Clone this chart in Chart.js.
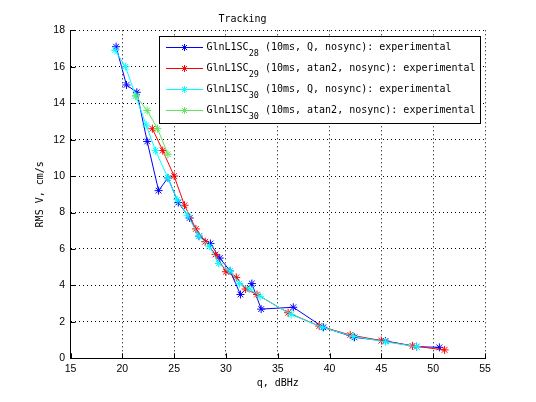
<!DOCTYPE html>
<html>
<head>
<meta charset="utf-8">
<script src="https://cdn.jsdelivr.net/npm/chart.js@4/dist/chart.umd.min.js"></script>
<style>
html,body{margin:0;padding:0;background:#fff;}
#wrap{width:536px;height:402px;}
</style>
</head>
<body>
<div id="wrap"><canvas id="c" width="536" height="402"></canvas></div>
<script>
// ---- data ----
const xTicks = [15, 20, 25, 30, 35, 40, 45, 50, 55];
const yTicks = [0, 2, 4, 6, 8, 10, 12, 14, 16, 18];

const q28Q_x = [19.4, 20.4, 21.4, 22.4, 23.5, 24.4, 25.4, 26.5, 27.4, 28.5, 29.4, 30.4, 31.4, 32.5, 33.4, 36.5, 39.4, 42.4, 45.4, 48.4, 50.6];
const q28Q_y = [17.1, 15.0, 14.6, 11.9, 9.2, 9.9, 8.55, 7.7, 6.7, 6.3, 5.5, 4.8, 3.5, 4.1, 2.7, 2.8, 1.7, 1.15, 0.95, 0.64, 0.6];

const q29A_x = [22.9, 23.9, 25.0, 26.0, 27.1, 28.0, 29.0, 30.0, 31.0, 31.9, 33.0, 36.0, 39.0, 42.0, 45.0, 48.0, 51.1];
const q29A_y = [12.6, 11.4, 10.0, 8.4, 7.1, 6.4, 5.7, 4.75, 4.44, 3.8, 3.5, 2.5, 1.77, 1.28, 0.97, 0.68, 0.46];

const q30Q_x = [19.3, 20.3, 21.3, 22.3, 23.2, 24.4, 25.3, 26.3, 27.4, 28.4, 29.3, 30.4, 31.3, 32.3, 33.3, 36.3, 39.3, 42.3, 45.4, 48.4];
const q30Q_y = [16.9, 16.0, 14.4, 12.8, 11.4, 9.9, 8.7, 7.85, 6.7, 6.15, 5.2, 4.8, 4.1, 3.8, 3.4, 2.4, 1.7, 1.2, 0.9, 0.64];

const q30A_x = [21.3, 22.4, 23.4, 24.4];
const q30A_y = [14.4, 13.6, 12.6, 11.2];

const seriesNames = [
  ['GlnL1SC', '28', ' (10ms, Q, nosync): experimental'],
  ['GlnL1SC', '29', ' (10ms, atan2, nosync): experimental'],
  ['GlnL1SC', '30', ' (10ms, Q, nosync): experimental'],
  ['GlnL1SC', '30', ' (10ms, atan2, nosync): experimental']
];
const seriesColors = ['#0000ff', '#ff0000', '#00ffff', '#5fe65f'];

function pts(xs, ys) { return xs.map((x, i) => ({x: x, y: ys[i]})); }

const seriesData = [pts(q28Q_x, q28Q_y), pts(q29A_x, q29A_y), pts(q30Q_x, q30Q_y), pts(q30A_x, q30A_y)];

const MONO = '"DejaVu Sans Mono", monospace';
const SANS = '"Liberation Sans", Arial, sans-serif';

const datasets = seriesData.map((d, i) => ({
  label: seriesNames[i].join(''),
  data: d,
  showLine: true,
  borderColor: seriesColors[i],
  backgroundColor: seriesColors[i],
  borderWidth: 1,
  pointStyle: 'star',
  pointRadius: 4,
  pointBorderWidth: 1,
  pointBorderColor: seriesColors[i],
  tension: 0,
  order: 3 - i
}));

function starAt(ctx, x, y, r, color) {
  ctx.save();
  ctx.strokeStyle = color;
  ctx.lineWidth = 1;
  ctx.beginPath();
  for (let k = 0; k < 4; k++) {
    const a = k * Math.PI / 4;
    ctx.moveTo(x - r * Math.cos(a), y - r * Math.sin(a));
    ctx.lineTo(x + r * Math.cos(a), y + r * Math.sin(a));
  }
  ctx.stroke();
  ctx.restore();
}

const inwardTicks = {
  id: 'inwardTicks',
  afterDatasetsDraw(chart) {
    const ctx = chart.ctx, xs = chart.scales.x, ys = chart.scales.y, a = chart.chartArea;
    ctx.save();
    ctx.strokeStyle = '#000';
    ctx.lineWidth = 1;
    ctx.beginPath();
    xTicks.forEach(v => {
      const px = Math.round(xs.getPixelForValue(v)) + 0.5;
      ctx.moveTo(px, a.bottom);
      ctx.lineTo(px, a.bottom - 5);
    });
    yTicks.forEach(v => {
      const py = Math.round(ys.getPixelForValue(v)) + 0.5;
      ctx.moveTo(a.left, py);
      ctx.lineTo(a.left + 5, py);
    });
    ctx.stroke();
    ctx.restore();
  }
};

const subLegend = {
  id: 'subLegend',
  afterDraw(chart) {
    const ctx = chart.ctx;
    const bx = 159.5, by = 36.5, bw = 321, bh = 87;
    ctx.save();
    ctx.fillStyle = '#fff';
    ctx.fillRect(bx, by, bw, bh);
    ctx.strokeStyle = '#000';
    ctx.lineWidth = 1;
    ctx.strokeRect(bx, by, bw, bh);
    const rows = [47.5, 68.5, 89.5, 110.5];
    seriesNames.forEach((parts, i) => {
      const y = rows[i];
      ctx.strokeStyle = seriesColors[i];
      ctx.lineWidth = 1;
      ctx.beginPath();
      ctx.moveTo(166, y);
      ctx.lineTo(203, y);
      ctx.stroke();
      starAt(ctx, 184.5, y, 3.5, seriesColors[i]);
      ctx.fillStyle = '#000';
      ctx.textBaseline = 'middle';
      ctx.textAlign = 'left';
      let x = 206.5;
      ctx.font = '10px ' + MONO;
      ctx.fillText(parts[0], x, y);
      x += ctx.measureText(parts[0]).width;
      ctx.font = '8.5px ' + MONO;
      ctx.fillText(parts[1], x, y + 6);
      x += ctx.measureText(parts[1]).width;
      ctx.font = '10px ' + MONO;
      ctx.fillText(parts[2], x, y);
    });
    ctx.restore();
  }
};

new Chart(document.getElementById('c'), {
  type: 'scatter',
  data: { datasets: datasets },
  options: {
    responsive: false,
    animation: false,
    devicePixelRatio: 1,
    layout: { padding: { left: 0, right: 51, top: 0, bottom: 0 } },
    plugins: {
      legend: { display: false },
      tooltip: { enabled: false },
      title: {
        display: true,
        text: 'Tracking',
        color: '#000',
        font: { family: MONO, size: 10, weight: 'normal', lineHeight: 1.2 },
        padding: { top: 13, bottom: 5.3 }
      }
    },
    scales: {
      x: {
        type: 'linear',
        min: 15, max: 55,
        afterBuildTicks(s) { s.ticks = xTicks.map(v => ({value: v})); },
        afterFit(s) { s.height = 43.7; },
        ticks: { color: '#000', padding: 5, font: { family: SANS, size: 10.5, lineHeight: 1.2 }, maxRotation: 0, autoSkip: false },
        grid: { color: '#000', lineWidth: 1, drawTicks: false },
        border: { display: true, color: '#000', width: 1, dash: [1, 3] },
        title: { display: true, text: 'q, dBHz', color: '#000', font: { family: MONO, size: 10, lineHeight: 1.2 }, padding: { top: 0, bottom: 13 } }
      },
      y: {
        type: 'linear',
        min: 0, max: 18,
        afterBuildTicks(s) { s.ticks = yTicks.map(v => ({value: v})); },
        afterFit(s) { s.width = 70.5; },
        ticks: { color: '#000', padding: 5.5, font: { family: SANS, size: 10.5, lineHeight: 1.2 }, autoSkip: false },
        grid: { color: '#000', lineWidth: 1, drawTicks: false },
        border: { display: true, color: '#000', width: 1, dash: [1, 3] },
        title: { display: true, text: 'RMS V, cm/s', color: '#000', font: { family: MONO, size: 10, lineHeight: 1.2 }, padding: { top: 34, bottom: 0 } }
      }
    }
  },
  plugins: [inwardTicks, subLegend]
});
</script>
</body>
</html>
